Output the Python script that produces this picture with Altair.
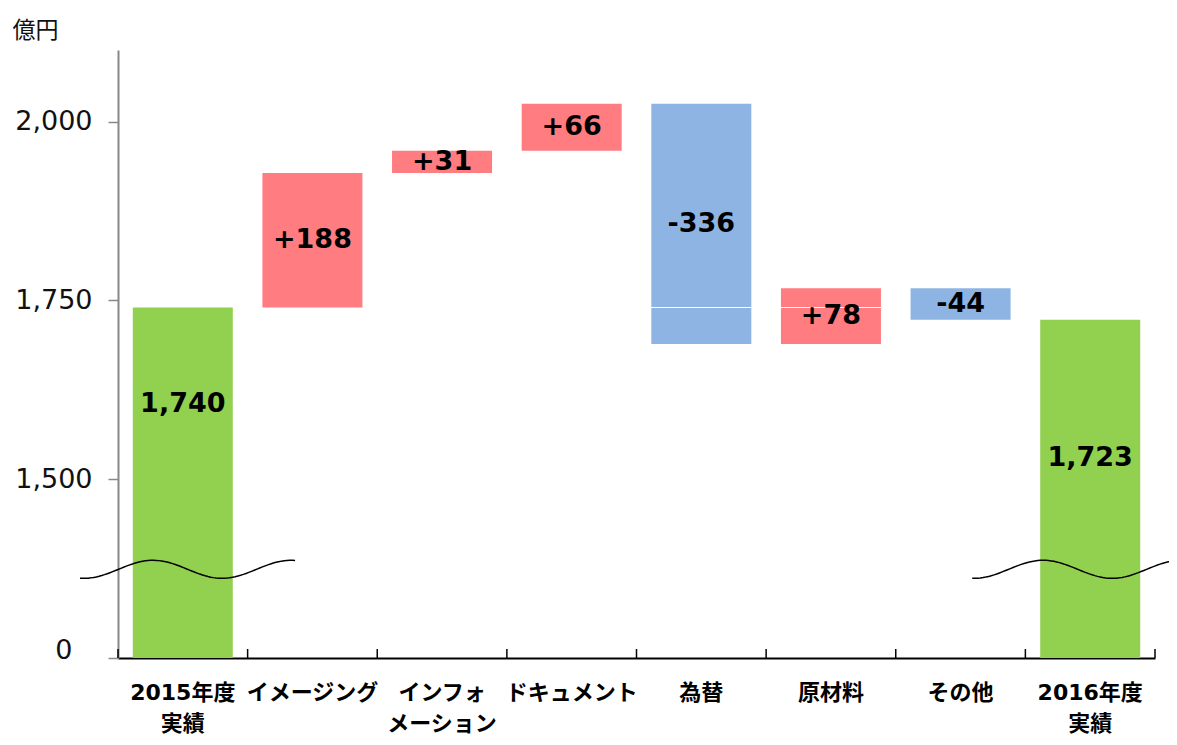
import altair as alt
import pandas as pd
import numpy as np

# ---- data ----
categories = ["2015年度\n実績", "イメージング", "インフォ\nメーション", "ドキュメント",
              "為替", "原材料", "その他", "2016年度\n実績"]
values = [1740, 188, 31, 66, -336, 78, -44, 1723]
kinds = ["total", "up", "up", "up", "down", "up", "down", "total"]
labels = ["1,740", "+188", "+31", "+66", "-336", "+78", "-44", "1,723"]
total_label_y = {0: 1605, 7: 1530}   # where the total labels sit
y_ticks = [1250, 1500, 1750, 2000]   # 1250 is shown as "0" (broken axis)

AXIS_MIN, AXIS_MAX = 1250, 2100
FONT = "DejaVu Sans, Noto Sans CJK JP"

rows = []
running = 0
for i, (c, v, k, lab) in enumerate(zip(categories, values, kinds, labels)):
    if k == "total":
        start, end = AXIS_MIN, v
        running = v
    else:
        start, end = running, running + v
        running = end
    ly = total_label_y.get(i, (start + end) / 2)
    rows.append(dict(cat=c, start=start, end=end, kind=k, label=lab, ly=ly))
df = pd.DataFrame(rows)

xband = alt.Scale(paddingInner=0.2285, paddingOuter=0.114)
yscale = alt.Scale(domain=[AXIS_MIN, AXIS_MAX], nice=False, zero=False)
qx = alt.Scale(domain=[0, 8], nice=False, zero=False)

bars = alt.Chart(df).mark_bar().encode(
    x=alt.X("cat:N", sort=categories, scale=xband, title=None,
            axis=alt.Axis(labelExpr="split(datum.label, '\\n')", labelAngle=0,
                          labelFont=FONT, labelFontSize=22, labelFontWeight="bold",
                          labelColor="#000", labelPadding=24, labelLineHeight=31,
                          ticks=False, domainColor="#000", domainWidth=2)),
    y=alt.Y("start:Q", scale=yscale,
            axis=alt.Axis(values=y_ticks, grid=False,
                          labelExpr="datum.value == 1250 ? '0' : format(datum.value, ',')",
                          labelFont=FONT, labelFontSize=27, labelColor="#111",
                          labelPadding={"condition": {"test": "datum.value == 1250", "value": 36}, "value": 16},
                          labelBaseline={"condition": {"test": "datum.value == 1250", "value": "alphabetic"}, "value": "middle"},
                          tickSize=10, tickColor="#888", tickWidth=1.5,
                          domainColor="#888", domainWidth=2,
                          title="億円", titleAngle=0, titleAlign="left",
                          titleBaseline="middle", titleX=-106, titleY=-20,
                          titleFont=FONT, titleFontSize=23, titleFontWeight="normal",
                          titleColor="#111")),
    y2="end:Q",
    color=alt.Color("kind:N", legend=None,
                    scale=alt.Scale(domain=["total", "up", "down"],
                                    range=["#92D050", "#FF7C80", "#8DB4E2"])),
)

text = alt.Chart(df).mark_text(font=FONT, fontSize=27, fontWeight="bold", color="#000").encode(
    x=alt.X("cat:N", sort=categories, scale=xband, axis=None),
    y=alt.Y("ly:Q", scale=yscale),
    text="label:N",
)

# white level line at the 2015 result, visible across 為替 / 原材料
level = pd.DataFrame({"x0": [4.1], "x1": [5.9], "yv": [values[0]]})
white_rule = alt.Chart(level).mark_rule(color="white", strokeWidth=1.2).encode(
    x=alt.X("x0:Q", scale=qx, axis=None), x2="x1:Q",
    y=alt.Y("yv:Q", scale=yscale),
)

# axis break waves (decoration)
wave_rows = []
for grp, (x_from, x_to, peak) in enumerate([(-0.293, 1.366, 0.27), (6.59, 8.25, 7.137)]):
    for xv in np.linspace(x_from, x_to, 80):
        wave_rows.append(dict(g=grp, x=xv, y=1374 + 12.6 * np.cos(2 * np.pi * (xv - peak) / 1.065)))
waves = alt.Chart(pd.DataFrame(wave_rows)).mark_line(color="#000", strokeWidth=1.5, clip=False).encode(
    x=alt.X("x:Q", scale=qx, axis=None),
    y=alt.Y("y:Q", scale=yscale),
    detail="g:N",
)

# upward tick marks at category boundaries
bounds = pd.DataFrame({"b": list(range(9))})
ticks = alt.Chart(bounds).mark_rule(color="#000", strokeWidth=1.5).encode(
    x=alt.X("b:Q", scale=qx, axis=None),
    y=alt.value(599), y2=alt.value(608),
)

chart = alt.layer(bars, white_rule, text, waves, ticks).resolve_scale(x="independent").properties(
    width=1037, height=608,
    autosize=alt.AutoSizeParams(type="none"),
    padding={"left": 110, "top": 42, "right": 14, "bottom": 78},
).configure_view(stroke=None)

chart.save("out.html", embed_options={"renderer": "svg", "actions": False})
